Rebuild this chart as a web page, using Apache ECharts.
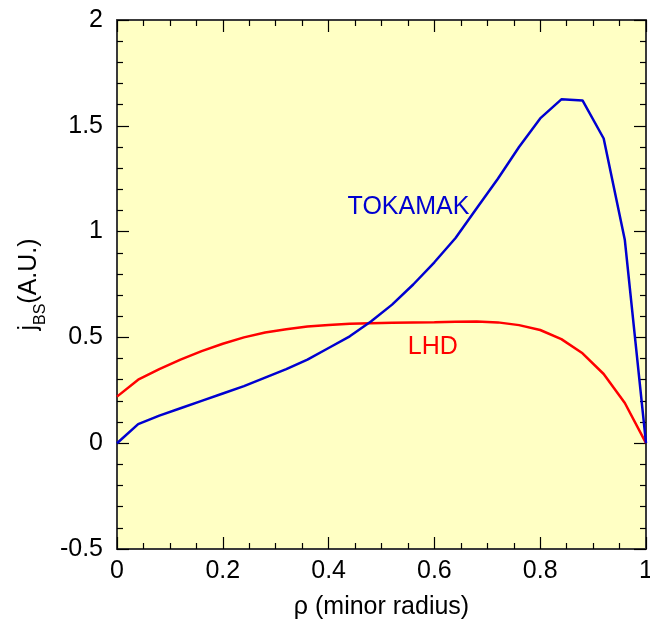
<!DOCTYPE html>
<html>
<head>
<meta charset="utf-8">
<script src="https://cdn.jsdelivr.net/npm/echarts@6/dist/echarts.min.js"></script>
<style>
  html, body { margin: 0; padding: 0; background: #ffffff; }
  #chart { width: 650px; height: 627px; }
</style>
</head>
<body>
<div id="chart"></div>
<script>
// Normalised minor radius, sampled every 0.04
const rho = [0, 0.04, 0.08, 0.12, 0.16, 0.20, 0.24, 0.28, 0.32, 0.36, 0.40, 0.44, 0.48,
             0.52, 0.56, 0.60, 0.64, 0.68, 0.72, 0.76, 0.80, 0.84, 0.88, 0.92, 0.96, 1.00];

// Bootstrap current profile, tokamak
const tokamak = [0, 0.09, 0.13, 0.165, 0.20, 0.235, 0.27, 0.31, 0.35, 0.395, 0.45, 0.505, 0.575,
                 0.655, 0.75, 0.855, 0.97, 1.11, 1.25, 1.40, 1.535, 1.625, 1.62, 1.44, 0.96, 0];

// Bootstrap current profile, LHD
const lhd = [0.22, 0.30, 0.35, 0.395, 0.435, 0.47, 0.50, 0.523, 0.538, 0.551, 0.559, 0.564, 0.567,
             0.569, 0.571, 0.572, 0.574, 0.575, 0.571, 0.558, 0.535, 0.492, 0.425, 0.327, 0.19, 0];

// Curve captions, placed in data coordinates
const tokamakCaption = { text: 'TOKAMAK', at: [0.551, 1.115] };
const lhdCaption = { text: 'LHD', at: [0.597, 0.455] };

const FONT = 'Liberation Sans, Arial, Helvetica, sans-serif';
const pairs = (xs, ys) => xs.map((x, i) => [x, ys[i]]);

const frameLine = { show: true, onZero: false, lineStyle: { color: '#3a3a3a', width: 2 } };
const majorTick = { show: true, inside: true, length: 12, lineStyle: { color: '#000', width: 1.2 } };
const minorTick = { show: true, length: 6, lineStyle: { color: '#000', width: 1.2 } };

const chart = echarts.init(document.getElementById('chart'), null, { renderer: 'canvas' });

chart.setOption({
  animation: false,
  backgroundColor: '#ffffff',
  grid: {
    left: 117, right: 4, top: 20, bottom: 78,
    outerBoundsMode: 'none', containLabel: false,
    show: true, backgroundColor: '#FFFFC4', borderWidth: 0
  },
  xAxis: [
    {
      type: 'value', min: 0, max: 1, interval: 0.2, position: 'bottom',
      axisLine: frameLine, axisTick: majorTick,
      minorTick: Object.assign({ splitNumber: 4 }, minorTick),
      splitLine: { show: false },
      axisLabel: { color: '#000', fontSize: 25, fontFamily: FONT, margin: 10 },
      name: 'ρ (minor radius)', nameLocation: 'middle', nameGap: 46,
      nameTextStyle: { color: '#000', fontSize: 25, fontFamily: FONT }
    },
    {
      type: 'value', min: 0, max: 1, interval: 0.2, position: 'top',
      axisLine: frameLine, axisTick: majorTick,
      minorTick: Object.assign({ splitNumber: 4 }, minorTick),
      splitLine: { show: false }, axisLabel: { show: false }
    }
  ],
  yAxis: [
    {
      type: 'value', min: -0.5, max: 2, interval: 0.5, position: 'left',
      axisLine: frameLine, axisTick: majorTick,
      minorTick: Object.assign({ splitNumber: 5 }, minorTick),
      splitLine: { show: false },
      axisLabel: { color: '#000', fontSize: 25, fontFamily: FONT, margin: 14 },
      name: '{j|j}{s|BS}{j|(A.U.)}', nameLocation: 'middle', nameGap: 70, nameRotate: 90,
      nameTextStyle: {
        color: '#000', fontFamily: FONT,
        rich: {
          j: { fontSize: 25, fontFamily: FONT, color: '#000', verticalAlign: 'bottom' },
          s: { fontSize: 16, fontFamily: FONT, color: '#000', verticalAlign: 'bottom', padding: [0, 0, -7, 0] }
        }
      }
    },
    {
      type: 'value', min: -0.5, max: 2, interval: 0.5, position: 'right',
      axisLine: frameLine, axisTick: majorTick,
      minorTick: Object.assign({ splitNumber: 5 }, minorTick),
      splitLine: { show: false }, axisLabel: { show: false }
    }
  ],
  series: [
    {
      name: 'TOKAMAK', type: 'line', data: pairs(rho, tokamak),
      showSymbol: false, lineStyle: { color: '#0000D0', width: 2.5 }, z: 3,
      markPoint: {
        symbol: 'circle', symbolSize: 0, silent: true,
        label: { show: true, formatter: tokamakCaption.text, color: '#0000D0', fontSize: 25, fontFamily: FONT },
        data: [{ coord: tokamakCaption.at }]
      }
    },
    {
      name: 'LHD', type: 'line', data: pairs(rho, lhd),
      showSymbol: false, lineStyle: { color: '#FF0000', width: 2.5 }, z: 2,
      markPoint: {
        symbol: 'circle', symbolSize: 0, silent: true,
        label: { show: true, formatter: lhdCaption.text, color: '#FF0000', fontSize: 25, fontFamily: FONT },
        data: [{ coord: lhdCaption.at }]
      }
    }
  ]
});
</script>
</body>
</html>
